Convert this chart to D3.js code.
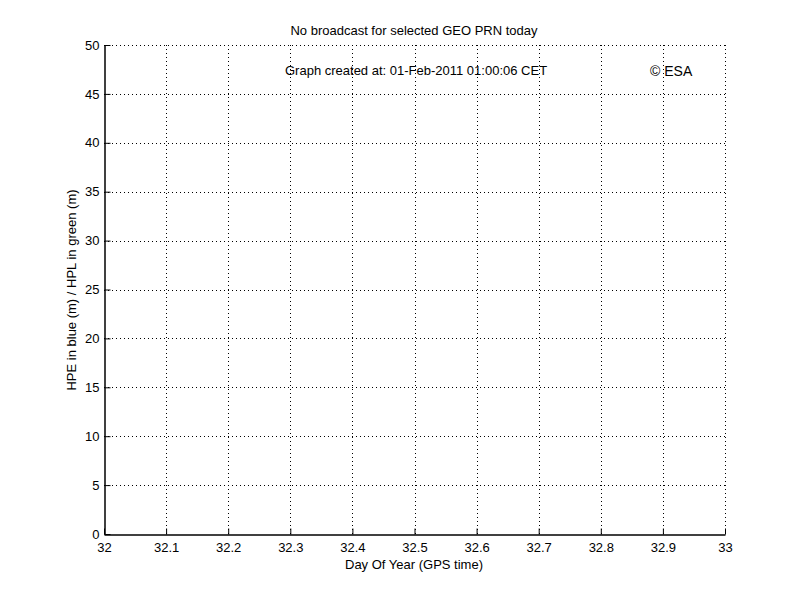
<!DOCTYPE html>
<html>
<head>
<meta charset="utf-8">
<script src="https://cdn.jsdelivr.net/npm/d3@7"></script>
<style>
  body { margin: 0; background: #fff; }
  text { font-family: "Liberation Sans", Arial, sans-serif; }
</style>
</head>
<body>
<svg id="chart" width="801" height="600"></svg>
<script>
// axes data
const xTicks = [32, 32.1, 32.2, 32.3, 32.4, 32.5, 32.6, 32.7, 32.8, 32.9, 33];
const yTicks = [0, 5, 10, 15, 20, 25, 30, 35, 40, 45, 50];
const xDomain = [32, 33];
const yDomain = [0, 50];
const titleText = "No broadcast for selected GEO PRN today";
const createdText = "Graph created at: 01-Feb-2011 01:00:06 CET";
const esaText = "\u00A9 ESA";

const margin = {top: 45, right: 76, bottom: 66, left: 104};
const width = 801 - margin.left - margin.right;
const height = 600 - margin.top - margin.bottom;

const svg = d3.select("#chart");
const g = svg.append("g")
    .attr("transform", "translate(" + margin.left + "," + margin.top + ")");

const x = d3.scaleLinear().domain(xDomain).range([0, width]);
const y = d3.scaleLinear().domain(yDomain).range([height, 0]);

// dotted grid
g.append("g").selectAll("line.vg")
  .data(xTicks.slice(1))
  .enter().append("line")
  .attr("x1", d => Math.round(x(d)) + 0.5).attr("x2", d => Math.round(x(d)) + 0.5)
  .attr("y1", 0).attr("y2", height)
  .attr("stroke", "#000").attr("stroke-width", 1)
  .attr("stroke-dasharray", "1,3");

g.append("g").selectAll("line.hg")
  .data(yTicks.slice(1))
  .enter().append("line")
  .attr("y1", d => Math.round(y(d)) + 0.5).attr("y2", d => Math.round(y(d)) + 0.5)
  .attr("x1", 0).attr("x2", width)
  .attr("stroke", "#000").attr("stroke-width", 1)
  .attr("stroke-dasharray", "1,3");

// axes with inward ticks
const xAxis = g.append("g")
  .attr("transform", "translate(0," + (height + 0.5) + ")")
  .call(d3.axisBottom(x).tickValues(xTicks).tickSize(-6).tickPadding(11)
        .tickFormat(d3.format("")).tickSizeOuter(0));

const yAxis = g.append("g")
  .attr("transform", "translate(0.5,0)")
  .call(d3.axisLeft(y).tickValues(yTicks).tickSize(-6).tickPadding(5).tickSizeOuter(0));

[xAxis, yAxis].forEach(a => {
  a.select(".domain").attr("stroke", "#000").attr("stroke-width", 1.5);
  a.selectAll(".tick line").attr("stroke", "#000");
  a.selectAll(".tick text")
    .attr("fill", "#000")
    .style("font-size", "13px")
    .style("font-family", "'Liberation Sans', Arial, sans-serif");
});
yAxis.selectAll(".tick text").attr("x", -5);
xAxis.selectAll(".tick text").attr("y", 8);

// labels
svg.append("text")
  .attr("x", 414).attr("y", 35)
  .attr("text-anchor", "middle")
  .style("font-size", "13px")
  .text(titleText);

svg.append("text")
  .attr("x", 414).attr("y", 569)
  .attr("text-anchor", "middle")
  .style("font-size", "13px")
  .text("Day Of Year (GPS time)");

svg.append("text")
  .attr("transform", "translate(76,290) rotate(-90)")
  .attr("text-anchor", "middle")
  .style("font-size", "13px")
  .text("HPE in blue (m) / HPL in green (m)");

svg.append("text")
  .attr("x", 285).attr("y", 75)
  .style("font-size", "13px")
  .text(createdText);

svg.append("text")
  .attr("x", 650).attr("y", 76)
  .style("font-size", "14px")
  .text(esaText);
</script>
</body>
</html>
